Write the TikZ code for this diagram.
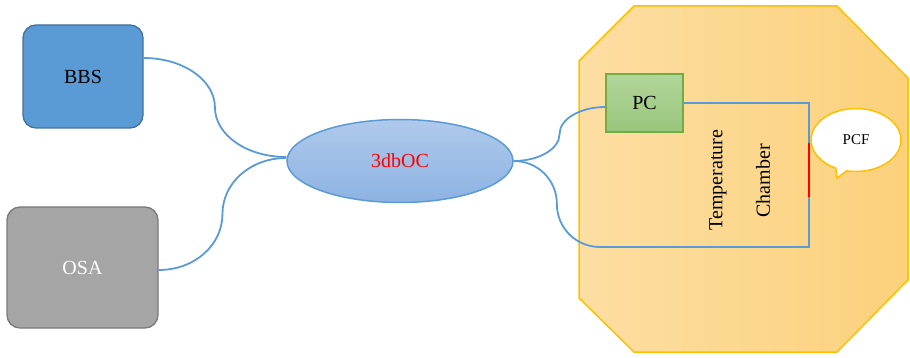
\documentclass[tikz,border=0pt]{standalone}
\usepackage{fontspec}
\setmainfont{Liberation Serif}
\usetikzlibrary{shapes.geometric,shapes.callouts,calc}
\definecolor{bbsfill}{HTML}{5B9BD5}
\definecolor{bbsline}{HTML}{41719C}
\definecolor{osafill}{HTML}{A5A5A5}
\definecolor{osaline}{HTML}{7A7A7A}
\definecolor{fiber}{HTML}{5B9BD5}
\definecolor{octtop}{HTML}{AFC9EB}
\definecolor{octbot}{HTML}{8DB3E2}
\definecolor{pctop}{HTML}{B2D69B}
\definecolor{pcbot}{HTML}{98C67B}
\definecolor{pcline}{HTML}{70AD47}
\definecolor{chamberL}{HTML}{FDDEA3}
\definecolor{chamberR}{HTML}{FBD17B}
\definecolor{gold}{HTML}{FFC000}
\definecolor{pcfred}{HTML}{FF0000}
\tikzset{
  unitbox/.style={rectangle, rounded corners=13pt, line width=1.3pt, inner sep=0pt,
    font=\fontsize{20}{24}\selectfont},
  fiberline/.style={draw=fiber, line width=1.8pt},
  lbl/.style={font=\fontsize{20}{24}\selectfont, inner sep=0pt},
}
\begin{document}
\begin{tikzpicture}[x=1pt,y=-1pt]
\useasboundingbox (0,0) rectangle (910,358);

% temperature chamber (octagon)
\path[left color=chamberL, right color=chamberR, draw=gold, line width=1.5pt]
  (634,6) -- (837,6) -- (908,78) -- (908,280) -- (837,352) -- (634,352)
  -- (579,298) -- (579,61) -- cycle;

% sources and coupler
\node[unitbox, fill=bbsfill, draw=bbsline, minimum width=120pt, minimum height=103pt]
  (bbs) at (83,76.5) {BBS};
\node[unitbox, fill=osafill, draw=osaline, text=white, minimum width=151pt, minimum height=121pt]
  (osa) at (82.5,267.5) {OSA};
\node[ellipse, top color=octtop, bottom color=octbot, draw=fiber, line width=1.5pt,
  minimum width=226pt, minimum height=83pt, inner sep=0pt, text=red,
  font=\fontsize{20}{24}\selectfont] (oc) at (400,161) {3dbOC};

% polarization controller
\node[rectangle, top color=pctop, bottom color=pcbot, draw=pcline, line width=1.3pt,
  minimum width=77pt, minimum height=58pt, inner sep=0pt,
  font=\fontsize{20}{24}\selectfont] (pc) at (644.5,103) {PC};

% fibre end points and loop corners
\coordinate (bbsout) at ([yshift=18.5pt]bbs.east);
\coordinate (osaout) at ([yshift=-2.5pt]osa.east);
\coordinate (ocin1) at ([yshift=4pt]oc.west);
\coordinate (ocin2) at ([yshift=3pt]oc.west);
\coordinate (pcin) at ([yshift=-4pt]pc.west);
\coordinate (pcfa) at (809,143);
\coordinate (pcfb) at (809,197);
\coordinate (br) at (809,247);
\coordinate (bl) at (600,247);
\coordinate (m1) at ($(bbsout)!0.5!(ocin1)$);
\coordinate (m2) at ($(osaout)!0.5!(ocin2)$);
\coordinate (m3) at ($(oc.east)!0.5!(pcin)$);
\coordinate (m4) at ($(oc.east)!0.5!(bl)$);

% fibres: each S-bend is two quarter-ellipse arcs
\draw[fiberline] (bbsout) .. controls +(40,0) and +(0,-27) .. (m1)
  .. controls +(0,27) and +(-40,0) .. (ocin1);
\draw[fiberline] (osaout) .. controls +(36,0) and +(0,31) .. (m2)
  .. controls +(0,-31) and +(-36,0) .. (ocin2);
\draw[fiberline] (oc.east) .. controls +(25,0) and +(0,15) .. (m3)
  .. controls +(0,-15) and +(-25,0) .. (pcin);
\draw[fiberline] (pc.east) -| (pcfa);
\draw[fiberline] (pcfb) -- (br) -- (bl) .. controls +(-24,0) and +(0,24) .. (m4)
  .. controls +(0,-24) and +(24,0) .. (oc.east);
\draw[pcfred, line width=2pt] (pcfa) -- (pcfb);

% labels
\node[lbl, rotate=90] (temp) at (718,180) {Temperature};
\node[lbl, rotate=90] (chamb) at (763,181) {Chamber};

% PCF callout
\node[ellipse callout, callout absolute pointer={(837,178)}, fill=white, draw=gold,
  line width=1.5pt, minimum width=90pt, minimum height=63pt, inner sep=0pt,
  font=\fontsize{15}{18}\selectfont] (pcf) at (856,140) {PCF};
\end{tikzpicture}
\end{document}
